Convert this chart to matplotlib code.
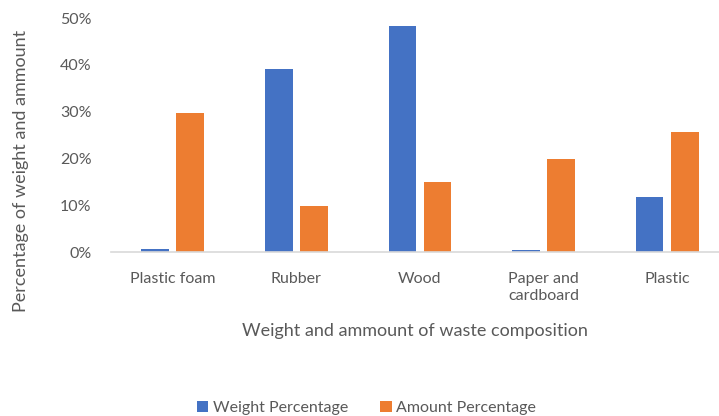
import matplotlib
matplotlib.use("Agg")
import matplotlib.pyplot as plt
import numpy as np
from matplotlib.ticker import PercentFormatter

BLUE, ORANGE, GREY = "#4472C4", "#ED7D31", "#595959"
plt.rcParams.update({"font.family": ["Lato", "DejaVu Sans"], "font.size": 11})

categories = ["Plastic foam", "Rubber", "Wood", "Paper and\ncardboard", "Plastic"]
weight_pct = [0.6, 39.1, 48.3, 0.4, 11.8]
amount_pct = [29.7, 9.9, 14.9, 19.9, 25.6]

fig = plt.figure(figsize=(7.19, 4.16), dpi=100)
ax = fig.add_axes([0.1544, 0.394, 0.8456, 0.5627])
x = np.arange(len(categories))
W = 0.225
ax.bar(x - 0.142, weight_pct, W, color=BLUE, label="Weight Percentage")
ax.bar(x + 0.142, amount_pct, W, color=ORANGE, label="Amount Percentage")

ax.set_ylim(0, 50)
ax.set_xlim(-0.5, 4.42)
ax.set_yticks(np.arange(0, 51, 10))
ax.yaxis.set_major_formatter(PercentFormatter(decimals=0))
ax.set_xticks(x)
ax.set_xticklabels(categories, color=GREY, fontsize=11.5, linespacing=1.35)
ax.tick_params(axis="y", colors=GREY, labelsize=11.5, length=0, pad=14)
ax.tick_params(axis="x", length=0, pad=14)
for s in ["top", "right", "left"]:
    ax.spines[s].set_visible(False)
ax.spines["bottom"].set_color("#D9D9D9")
ax.spines["bottom"].set_linewidth(1.2)

ax.set_xlabel("Weight and ammount of waste composition", color=GREY,
              fontsize=13, labelpad=14)
fig.text(0.029, 0.59, "Percentage of weight and ammount", rotation=90,
         color=GREY, fontsize=13, ha="center", va="center")

fig.legend(loc="center", bbox_to_anchor=(0.51, 0.02), ncol=2, frameon=False,
           handlelength=0.7, handleheight=0.7, handletextpad=0.3,
           columnspacing=2.0, fontsize=11.5, labelcolor=GREY)

fig.savefig("out.png", dpi=100)
